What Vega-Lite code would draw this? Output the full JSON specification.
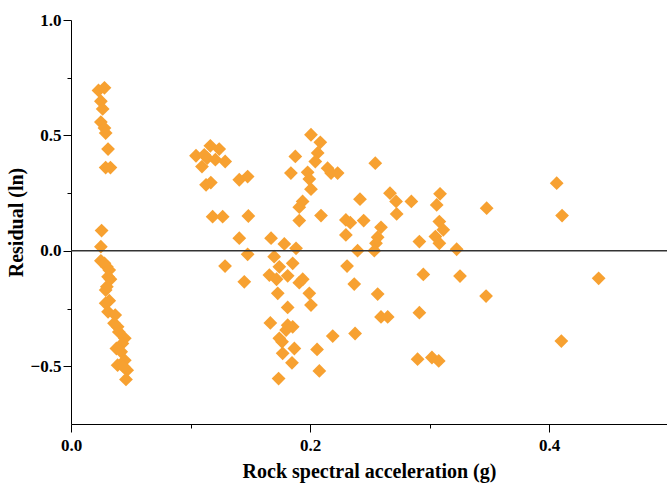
{
  "$schema": "https://vega.github.io/schema/vega-lite/v6.json",
  "width": 596,
  "height": 404,
  "autosize": {"type": "none"},
  "padding": {"left": 71, "top": 20, "right": 0, "bottom": 66},
  "config": {
    "view": {"stroke": null},
    "axis": {
      "grid": false,
      "domainColor": "#000000",
      "domainWidth": 1,
      "tickColor": "#000000",
      "tickWidth": 1,
      "labelFont": "Liberation Serif",
      "labelFontWeight": "bold",
      "labelFontSize": 17,
      "labelColor": "#000000",
      "labelFlush": false,
      "titleFont": "Liberation Serif",
      "titleFontWeight": "bold",
      "titleFontSize": 20,
      "titleColor": "#000000"
    }
  },
  "resolve": {"axis": {"x": "independent", "y": "independent"}},
  "layer": [
    {
      "data": {
        "values": [
          {"sa": 0.023, "res": 0.695}, {"sa": 0.028, "res": 0.706}, {"sa": 0.025, "res": 0.648}, {"sa": 0.0265, "res": 0.615},
          {"sa": 0.025, "res": 0.558}, {"sa": 0.028, "res": 0.532}, {"sa": 0.029, "res": 0.51}, {"sa": 0.031, "res": 0.441},
          {"sa": 0.029, "res": 0.361}, {"sa": 0.033, "res": 0.361}, {"sa": 0.0256, "res": 0.088}, {"sa": 0.025, "res": 0.018},
          {"sa": 0.025, "res": -0.043}, {"sa": 0.028, "res": -0.054}, {"sa": 0.030, "res": -0.069}, {"sa": 0.032, "res": -0.083},
          {"sa": 0.031, "res": -0.112}, {"sa": 0.033, "res": -0.123}, {"sa": 0.030, "res": -0.155}, {"sa": 0.029, "res": -0.17},
          {"sa": 0.032, "res": -0.216}, {"sa": 0.029, "res": -0.227}, {"sa": 0.031, "res": -0.264}, {"sa": 0.037, "res": -0.278},
          {"sa": 0.036, "res": -0.314}, {"sa": 0.039, "res": -0.329}, {"sa": 0.040, "res": -0.351}, {"sa": 0.045, "res": -0.379},
          {"sa": 0.043, "res": -0.401}, {"sa": 0.038, "res": -0.423}, {"sa": 0.042, "res": -0.437}, {"sa": 0.045, "res": -0.474},
          {"sa": 0.039, "res": -0.495}, {"sa": 0.047, "res": -0.517}, {"sa": 0.046, "res": -0.557}, {"sa": 0.044, "res": -0.503},
          {"sa": 0.1166, "res": 0.455}, {"sa": 0.124, "res": 0.441}, {"sa": 0.1046, "res": 0.412}, {"sa": 0.1115, "res": 0.416},
          {"sa": 0.114, "res": 0.402}, {"sa": 0.1208, "res": 0.395}, {"sa": 0.129, "res": 0.387}, {"sa": 0.1096, "res": 0.365},
          {"sa": 0.113, "res": 0.286}, {"sa": 0.117, "res": 0.296}, {"sa": 0.1408, "res": 0.308}, {"sa": 0.1478, "res": 0.322},
          {"sa": 0.1185, "res": 0.148}, {"sa": 0.1269, "res": 0.148}, {"sa": 0.1484, "res": 0.151}, {"sa": 0.1408, "res": 0.055},
          {"sa": 0.1478, "res": -0.015}, {"sa": 0.1289, "res": -0.066}, {"sa": 0.145, "res": -0.134},
          {"sa": 0.1674, "res": 0.055}, {"sa": 0.1785, "res": 0.03}, {"sa": 0.1883, "res": 0.011}, {"sa": 0.17, "res": -0.025},
          {"sa": 0.1743, "res": -0.069}, {"sa": 0.1855, "res": -0.054}, {"sa": 0.166, "res": -0.105}, {"sa": 0.172, "res": -0.123},
          {"sa": 0.1813, "res": -0.108}, {"sa": 0.191, "res": -0.138}, {"sa": 0.1939, "res": -0.123}, {"sa": 0.173, "res": -0.184},
          {"sa": 0.1994, "res": -0.184}, {"sa": 0.2008, "res": -0.235}, {"sa": 0.1813, "res": -0.245}, {"sa": 0.1668, "res": -0.312},
          {"sa": 0.1813, "res": -0.322}, {"sa": 0.1855, "res": -0.329}, {"sa": 0.18, "res": -0.343}, {"sa": 0.1743, "res": -0.379},
          {"sa": 0.1766, "res": -0.394}, {"sa": 0.1869, "res": -0.423}, {"sa": 0.1771, "res": -0.444}, {"sa": 0.1849, "res": -0.485},
          {"sa": 0.1737, "res": -0.553}, {"sa": 0.2059, "res": -0.427}, {"sa": 0.2078, "res": -0.52}, {"sa": 0.219, "res": -0.369},
          {"sa": 0.2008, "res": 0.503}, {"sa": 0.2086, "res": 0.47}, {"sa": 0.2064, "res": 0.424}, {"sa": 0.2044, "res": 0.387},
          {"sa": 0.1877, "res": 0.409}, {"sa": 0.184, "res": 0.337}, {"sa": 0.198, "res": 0.34}, {"sa": 0.1994, "res": 0.311},
          {"sa": 0.2008, "res": 0.267}, {"sa": 0.2147, "res": 0.358}, {"sa": 0.2231, "res": 0.337}, {"sa": 0.2176, "res": 0.337},
          {"sa": 0.1938, "res": 0.214}, {"sa": 0.191, "res": 0.189}, {"sa": 0.191, "res": 0.131}, {"sa": 0.2092, "res": 0.153},
          {"sa": 0.23, "res": 0.134}, {"sa": 0.2546, "res": 0.38}, {"sa": 0.2418, "res": 0.224}, {"sa": 0.2337, "res": 0.122},
          {"sa": 0.2449, "res": 0.131}, {"sa": 0.2594, "res": 0.102}, {"sa": 0.23, "res": 0.069}, {"sa": 0.2566, "res": 0.059},
          {"sa": 0.2552, "res": 0.033}, {"sa": 0.2398, "res": 0.001}, {"sa": 0.2538, "res": 0.001}, {"sa": 0.231, "res": -0.066},
          {"sa": 0.237, "res": -0.144}, {"sa": 0.2566, "res": -0.187}, {"sa": 0.2594, "res": -0.286}, {"sa": 0.265, "res": -0.286},
          {"sa": 0.2377, "res": -0.358}, {"sa": 0.2669, "res": 0.25}, {"sa": 0.272, "res": 0.214}, {"sa": 0.2725, "res": 0.16},
          {"sa": 0.2848, "res": 0.214}, {"sa": 0.3088, "res": 0.247}, {"sa": 0.306, "res": 0.199}, {"sa": 0.3082, "res": 0.127},
          {"sa": 0.3115, "res": 0.091}, {"sa": 0.3049, "res": 0.062}, {"sa": 0.3082, "res": 0.033}, {"sa": 0.2915, "res": 0.04},
          {"sa": 0.3227, "res": 0.007}, {"sa": 0.3478, "res": 0.185}, {"sa": 0.2948, "res": -0.102}, {"sa": 0.3255, "res": -0.109},
          {"sa": 0.3473, "res": -0.196}, {"sa": 0.2915, "res": -0.268}, {"sa": 0.29, "res": -0.469}, {"sa": 0.302, "res": -0.462},
          {"sa": 0.3077, "res": -0.477}, {"sa": 0.4064, "res": 0.293}, {"sa": 0.4109, "res": 0.153}, {"sa": 0.4415, "res": -0.119},
          {"sa": 0.4103, "res": -0.391}
        ]
      },
      "mark": {"type": "point", "shape": "diamond", "filled": true, "color": "#F7A131", "opacity": 1, "size": 190},
      "encoding": {
        "x": {
          "field": "sa", "type": "quantitative",
          "scale": {"domain": [0, 0.4987], "nice": false, "zero": false},
          "axis": {
            "orient": "bottom",
            "title": "Rock spectral acceleration (g)",
            "values": [0, 0.2, 0.4],
            "format": ".1f",
            "tickSize": 8,
            "labelPadding": 5,
            "titlePadding": 8
          }
        },
        "y": {
          "field": "res", "type": "quantitative",
          "scale": {"domain": [-0.75, 1.0], "nice": false, "zero": false},
          "axis": {
            "orient": "left",
            "title": "Residual (ln)",
            "values": [-0.5, 0, 0.5, 1.0],
            "format": ".1f",
            "tickSize": 8,
            "labelPadding": 2,
            "titlePadding": 4
          }
        }
      }
    },
    {
      "data": {"values": [{"sa": 0.1, "res": 0}]},
      "mark": {"type": "point", "opacity": 0},
      "encoding": {
        "x": {
          "field": "sa", "type": "quantitative",
          "scale": {"domain": [0, 0.4987], "nice": false, "zero": false},
          "axis": {"orient": "bottom", "values": [0.1, 0.3], "labels": false, "domain": false, "title": null, "tickSize": 4}
        },
        "y": {
          "field": "res", "type": "quantitative",
          "scale": {"domain": [-0.75, 1.0], "nice": false, "zero": false},
          "axis": {"orient": "left", "values": [-0.25, 0.25, 0.75], "labels": false, "domain": false, "title": null, "tickSize": 4}
        }
      }
    },
    {
      "data": {"values": [{"zero": 0}]},
      "mark": {"type": "rule", "color": "#333333", "strokeWidth": 1.5},
      "encoding": {"y": {"field": "zero", "type": "quantitative", "axis": null}}
    }
  ]
}
